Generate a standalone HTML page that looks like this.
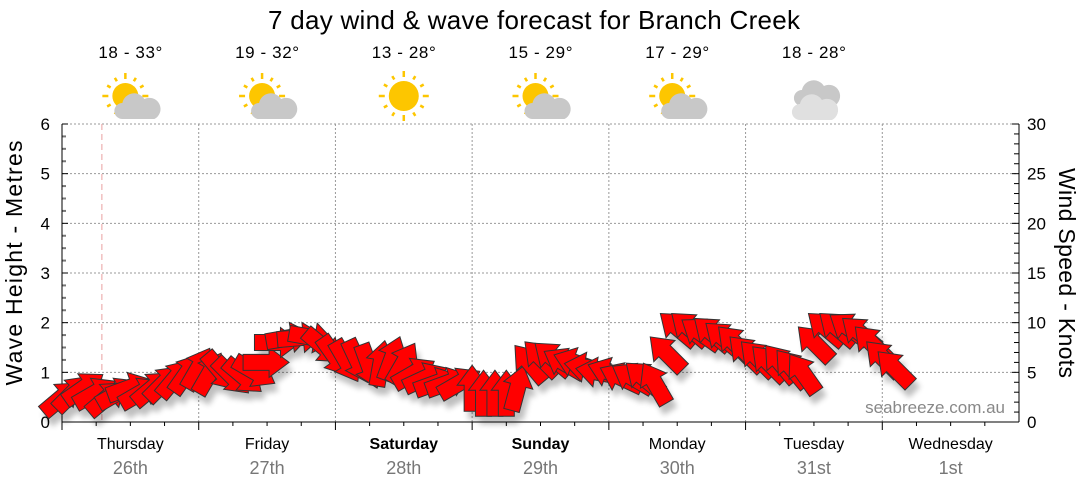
<!DOCTYPE html>
<html><head><meta charset="utf-8"><style>
body{margin:0;background:#fff;}
svg{display:block;font-family:"Liberation Sans",sans-serif;}
</style></head><body>
<svg id="c" width="1080" height="490" viewBox="0 0 1080 490">
<defs><filter id="sh" x="-50%" y="-50%" width="200%" height="200%"><feGaussianBlur stdDeviation="3"/></filter></defs>
<text x="534" y="29" font-size="26" text-anchor="middle" fill="#000" textLength="532">7 day wind &amp; wave forecast for Branch Creek</text>
<g id="grid"></g><g id="axes"></g><g id="icons"></g>
<g id="shadows" filter="url(#sh)" opacity="0.25"></g>
<g id="arrows"></g>
<text x="1005" y="413" font-size="17" fill="#888" text-anchor="end">seabreeze.com.au</text>
<text transform="translate(22,263) rotate(-90)" font-size="23" text-anchor="middle" textLength="245">Wave Height - Metres</text>
<text transform="translate(1059,273) rotate(90)" font-size="23" text-anchor="middle" textLength="210">Wind Speed - Knots</text>
</svg>
<script>
const days=["Thursday","Friday","Saturday","Sunday","Monday","Tuesday","Wednesday"];
const dates=["26th","27th","28th","29th","30th","31st","1st"];
const temps=["18 - 33°","19 - 32°","13 - 28°","15 - 29°","17 - 29°","18 - 28°"];
const weather=["partly","partly","sunny","partly","partly","cloudy"];
const waveTicks=[0,1,2,3,4,5,6];
const windTicks=[0,5,10,15,20,25,30];
const hours=[0,2,4,6,8,10,12,14,16,18,20,22,24,26,28,30,32,34,36,38,40,42,44,46,48,50,52,54,56,58,60,62,64,66,68,70,72,74,76,78,80,82,84,86,88,90,92,94,96,98,100,102,104,106,108,110,112,114,116,118,120,122,124,126,128,130,132,134,136,138,140,142,144,146];
const speeds=[2.5,3,3.5,3,2.5,3,3.5,3,3.5,4,4.5,5, 5.5,5,5,4.5,4.5,5,6,8,8.5,8.5,8.5,7.5, 6.5,6,6,5.5,6,6.5,6,5,4.5,4,4,4, 3.5,3,3,3,3.5,6,6.5,6.5,6,6,5.5,5, 5,4.5,4.5,4.5,4,7,9.5,9.5,9,9,8.5,8, 7,6.5,6,6,5.5,5,8,9.5,9.5,9.5,9,8, 6.5,5.5];
const dirs=[-40,-45,-35,-30,-40,-30,-20,-30,-40,-45,-50,-55, -60,-60,50,45,40,30,0,0,-10,-5,10,40, 55,60,65,70,-80,-70,-60,-30,-25,-20,-20,-30, -90,-90,-90,-90,-75,-130,-135,-140,-150,-160,-170,-170, -160,-155,-150,-140,-120,-135,-140,-140,-145,-140,-140,-135, -135,-135,-135,-130,-130,-125,-135,-140,-140,-145,-140,-135, -135,-135];
const X0=62,X1=1019,Y0=422,Y1=124;
const xH=h=>X0+h*(X1-X0)/168;
const yW=v=>Y0-v*(Y0-Y1)/6;
const yK=v=>Y0-v*(Y0-Y1)/30;
const NS="http://www.w3.org/2000/svg";
function mk(t,a,p){const e=document.createElementNS(NS,t);for(const k in a)e.setAttribute(k,a[k]);(p||document.getElementById('c')).appendChild(e);return e;}
const grid=document.getElementById('grid'),axes=document.getElementById('axes'),icons=document.getElementById('icons');
waveTicks.forEach(v=>{if(v>0){const g=mk('line',{x1:X0,x2:X1,y1:yW(v),y2:yW(v),stroke:'#999','stroke-dasharray':'2,2'},grid);

}
const t=mk('text',{x:50,y:yW(v)+6,'font-size':17,'text-anchor':'end'},axes);t.textContent=v;


mk('line',{x1:X0,x2:X0+6,y1:yW(v),y2:yW(v),stroke:'#000'},axes);
if(v<6)for(let m=1;m<4;m++)mk('line',{x1:X0,x2:X0+4,y1:yW(v+m/4),y2:yW(v+m/4),stroke:'#777','stroke-width':2},axes);});
windTicks.forEach(v=>{const t=mk('text',{x:1027,y:yK(v)+6,'font-size':17},axes);t.textContent=v;

});
for(let k=0;k<=30;k++)mk('line',{x1:X1-(k%5?5:7),x2:X1,y1:yK(k),y2:yK(k),stroke:'#000'},axes);
mk('line',{x1:X0,x2:X0,y1:Y1,y2:Y0,stroke:'#000'},axes);
mk('line',{x1:X1,x2:X1,y1:Y1,y2:Y0,stroke:'#000'},axes);
mk('line',{x1:X0,x2:X1,y1:Y0,y2:Y0,stroke:'#000'},axes);
mk('line',{x1:xH(7),x2:xH(7),y1:Y1,y2:Y0,stroke:'#e9a0a0','stroke-dasharray':'6,4'},grid);
days.forEach((d,i)=>{const xs=xH(i*24),xc=xH(i*24+12);
if(i>0)mk('line',{x1:xs,x2:xs,y1:Y1,y2:Y0,stroke:'#999','stroke-dasharray':'2,2'},grid);
for(let q=0;q<4;q++)mk('line',{x1:xH(i*24+q*6),x2:xH(i*24+q*6),y1:Y0,y2:Y0+(q?4:8),stroke:'#000'},axes);
const t=mk('text',{x:xc,y:449,'font-size':16,'text-anchor':'middle','font-weight':(i==2||i==3)?'bold':'normal'},axes);t.textContent=d;


const t2=mk('text',{x:xc,y:474,'font-size':18,'text-anchor':'middle',fill:'#777'},axes);t2.textContent=dates[i];

});
function sun(cx,cy,r,g){mk('circle',{cx,cy,r,fill:'#fdc600'},g);for(let a=0;a<12;a++){const an=a*Math.PI/6;mk('line',{x1:cx+Math.cos(an)*(r+4),y1:cy+Math.sin(an)*(r+4),x2:cx+Math.cos(an)*(r+8+(a%3?0:2)),y2:cy+Math.sin(an)*(r+8+(a%3?0:2)),stroke:'#fdc600','stroke-width':2.5},g);}}
function cloud(cx,cy,col,g){mk('path',{d:`M${cx-16} ${cy+12} a8 8 0 0 1 0 -16 a12 12 0 0 1 22 -4 a10 10 0 0 1 10 20 z`,fill:col},g);}
temps.forEach((tt,i)=>{const xc=xH(i*24+12);
const t=mk('text',{x:xc,y:58,'font-size':17,'text-anchor':'middle','textLength':64},icons);t.textContent=tt;


const g=mk('g',{},icons);


if(weather[i]=='sunny')sun(xc,96,15,g);
else if(weather[i]=='partly'){sun(xc-5,96,13,g);cloud(xc+8,107,'#c8c8c8',g);}
else{cloud(xc+4,94,'#c8c8c8',g);cloud(xc+2,108,'#e0e0e0',g);}});
const A=document.getElementById('arrows'),S=document.getElementById('shadows');
const shape="M-24 -8 L2 -8 L2 -15 L22 0 L2 15 L2 8 L-24 8 Z";
hours.forEach((h,i)=>{const x=xH(h),y=yK(speeds[i]);
mk('path',{d:shape,transform:`translate(${x+4},${y+8}) rotate(${dirs[i]})`,fill:'#000'},S);
const p=mk('path',{d:shape,transform:`translate(${x},${y}) rotate(${dirs[i]})`,fill:'#f00',stroke:'#333','stroke-width':1},A);

});
</script>
</body></html>
